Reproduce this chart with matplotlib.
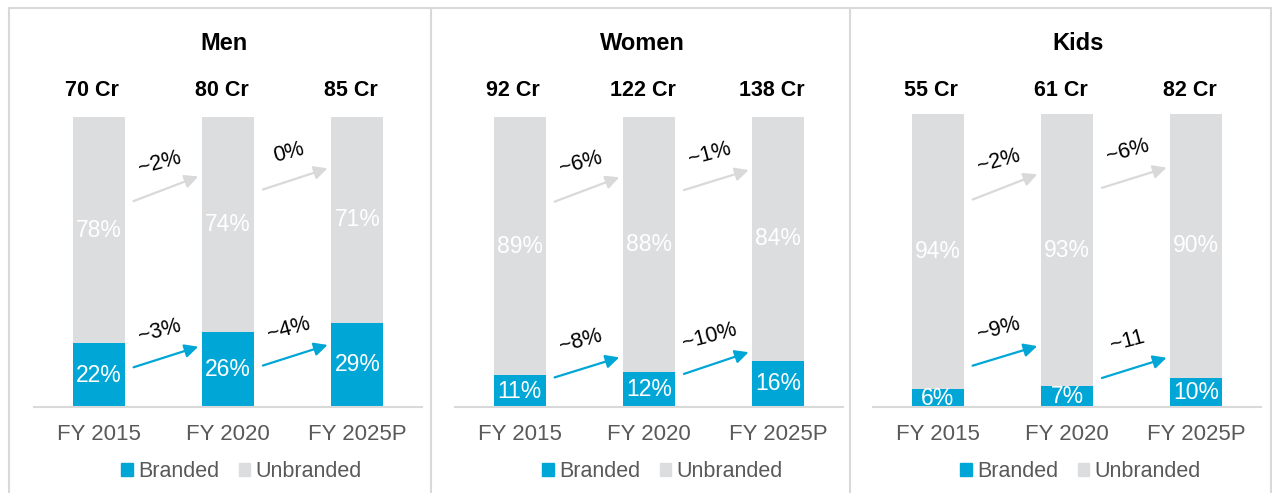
import numpy as np
import matplotlib
matplotlib.use('Agg')
import matplotlib.pyplot as plt
from matplotlib.patches import Patch
from matplotlib.lines import Line2D
from matplotlib.transforms import blended_transform_factory

plt.rcParams['font.family'] = ['Liberation Sans', 'DejaVu Sans']

# Market size data (share of branded / unbranded, total in Cr)
categories = ['FY 2015', 'FY 2020', 'FY 2025P']
segments = ['Men', 'Women', 'Kids']

men_branded = [22, 26, 29]
men_unbranded = [78, 74, 71]
men_total = [70, 80, 85]
men_cagr_unbranded = ['~2%', '0%']
men_cagr_branded = ['~3%', '~4%']

women_branded = [11, 12, 16]
women_unbranded = [89, 88, 84]
women_total = [92, 122, 138]
women_cagr_unbranded = ['~6%', '~1%']
women_cagr_branded = ['~8%', '~10%']

kids_branded = [6, 7, 10]
kids_unbranded = [94, 93, 90]
kids_total = [55, 61, 82]
kids_cagr_unbranded = ['~2%', '~6%']
kids_cagr_branded = ['~9%', '~11']

BLUE = '#00A6D6'
GRAY = '#DCDDDE'
LINE = '#D9D9D9'
TEXT_GRAY = '#595959'

W, H = 1272, 493
fig = plt.figure(figsize=(W / 100, H / 100), dpi=100)

# panel frames
def fig_line(xs, ys):
    fig.add_artist(Line2D([x / W for x in xs], [1 - y / H for y in ys],
                          color=LINE, lw=1.5, transform=fig.transFigure))

fig_line([9, 1271], [8, 8])
for xp in [9, 431, 850, 1271]:
    fig_line([xp, xp], [8, H])

panel_data = [
    (men_branded, men_unbranded, men_total, men_cagr_unbranded, men_cagr_branded),
    (women_branded, women_unbranded, women_total, women_cagr_unbranded, women_cagr_branded),
    (kids_branded, kids_unbranded, kids_total, kids_cagr_unbranded, kids_cagr_branded),
]

# layout per panel (pixels)
ax_left = [34, 455, 873]
ax_top = [117, 117, 114]
base_y = 407
title_x = [224.5, 642, 1078]
# arrow heights (start, end) in axis units
gray_arrow_y = [[(71.0, 79.5), (75.0, 82.3)],
                [(70.8, 79.2), (74.8, 81.7)],
                [(70.8, 79.4), (74.8, 81.7)]]
blue_arrow_y = [[(13.7, 20.8), (14.3, 21.4)],
                [(10.2, 17.1), (11.4, 18.9)],
                [(14.1, 20.8), (9.9, 16.8)]]

x = np.arange(len(categories))

for i, name in enumerate(segments):
    branded, unbranded, total, cagr_u, cagr_b = panel_data[i]
    ax = fig.add_axes([ax_left[i] / W, (H - base_y) / H, 388 / W, (base_y - ax_top[i]) / H])
    ax.bar(x, branded, width=0.4, color=BLUE)
    ax.bar(x, unbranded, bottom=branded, width=0.4, color=GRAY)
    ax.set_xlim(-0.5, 2.5)
    ax.set_ylim(0, 100)

    for xi, b, u in zip(x, branded, unbranded):
        ax.text(xi, b / 2, f'{b}%', ha='center', va='center', color='white',
                fontsize=16.5, clip_on=True)
        ax.text(xi, b + u / 2, f'{u}%', ha='center', va='center', color='white',
                fontsize=16.5, clip_on=True)

    # totals above bars
    tr = blended_transform_factory(ax.transData, fig.transFigure)
    for xi, t in zip(x, total):
        ax.text(xi - 0.05, 1 - 90 / H, f'{t} Cr', transform=tr, ha='center', va='center',
                fontsize=15.5, fontweight='bold', color='black')

    fig.text(title_x[i] / W, 1 - 43 / H, name, ha='center', va='center',
             fontsize=17, fontweight='bold', color='black')

    # growth arrows between bars
    for j in range(2):
        for (y0, y1), lab, col in [(gray_arrow_y[i][j], cagr_u[j], LINE),
                                   (blue_arrow_y[i][j], cagr_b[j], BLUE)]:
            x0, x1 = j + 0.27, j + 0.77
            ax.annotate('', xy=(x1, y1), xytext=(x0, y0),
                        arrowprops=dict(arrowstyle='-|>', color=col, lw=1.6,
                                        mutation_scale=20, shrinkA=0, shrinkB=0))
            ax.text((x0 + x1) / 2 - 0.05, (y0 + y1) / 2 + 9, lab, ha='center', va='center',
                    rotation=15, rotation_mode='anchor', fontsize=15.5, color='black')

    for side in ['left', 'right', 'top']:
        ax.spines[side].set_visible(False)
    ax.spines['bottom'].set_color(LINE)
    ax.spines['bottom'].set_linewidth(1.5)
    ax.set_yticks([])
    ax.set_xticks(x, categories)
    ax.tick_params(axis='x', length=0, pad=12, labelsize=16, labelcolor=TEXT_GRAY)

    handles = [Patch(color=BLUE, label='Branded'), Patch(color=GRAY, label='Unbranded')]
    fig.legend(handles=handles, loc='center',
               bbox_to_anchor=((ax_left[i] + 207.5) / W, 1 - 471.5 / H),
               bbox_transform=fig.transFigure, ncol=2, frameon=False, fontsize=15.5,
               handlelength=0.55, handleheight=0.55, handletextpad=0.25,
               columnspacing=0.9, labelcolor=TEXT_GRAY, borderaxespad=0, borderpad=0)

fig.savefig('out.png', dpi=100)
